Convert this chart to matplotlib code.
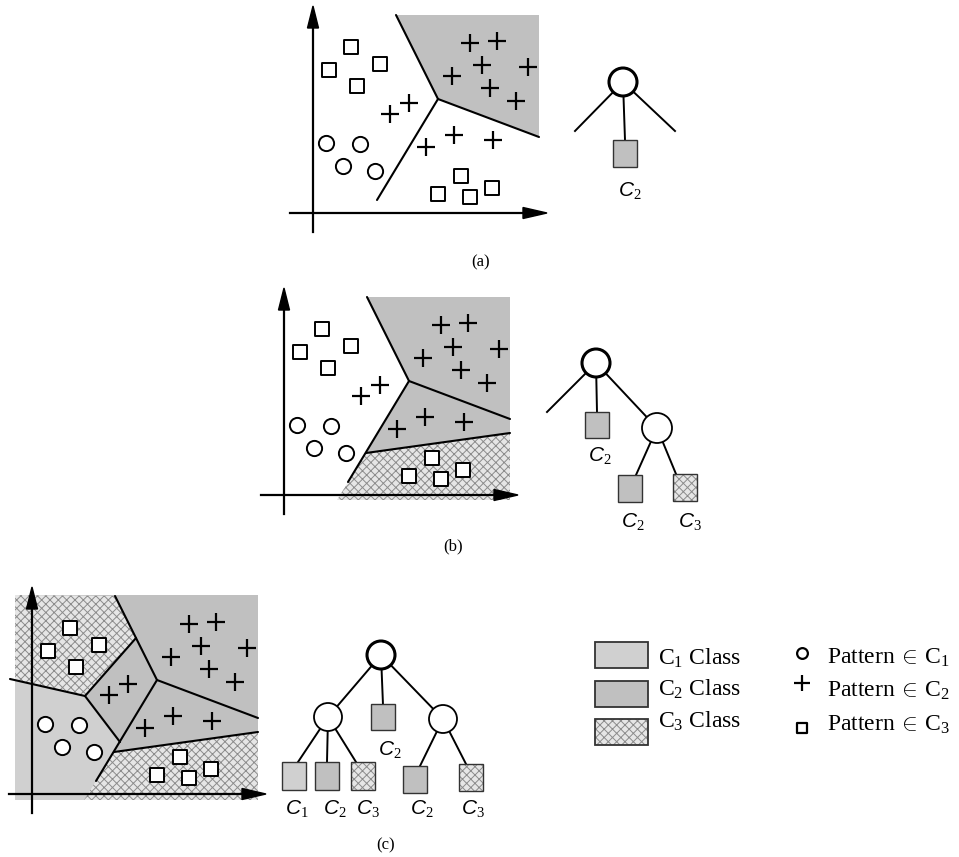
import matplotlib.pyplot as plt
from matplotlib.patches import Polygon, Circle

plt.rcParams['mathtext.fontset'] = 'custom'
plt.rcParams['mathtext.rm'] = 'Liberation Serif'
plt.rcParams['mathtext.it'] = 'Liberation Sans:italic'
plt.rcParams['hatch.linewidth'] = 0.7

# Pattern positions in feature space (units right of / above the origin)
square_x = [38, 16, 67, 44, 125, 148, 157, 179]
square_y = [166, 143, 149, 127, 19, 37, 16, 25]
circle_x = [13, 47, 30, 62]
circle_y = [70, 69, 47, 42]
plus_x = [77, 96, 139, 157, 184, 169, 215, 177, 203, 113, 141, 180]
plus_y = [99, 110, 137, 170, 172, 148, 146, 125, 112, 66, 78, 73]

# Decision boundary vertices
TOP = (83, 198)
HUB = (125, 114)
RIGHT = (226, 76)
BOTTOM = (64, 13)
SPLIT_L = (82, 42)
SPLIT_R = (226, 62)
HUB2 = (104, 156)
MID_L = (53, 98)
MID_B = (88, 52)
LEFT = (-22, 115)

CLASS_FACE = {'C1': '#d0d0d0', 'C2': '#c0c0c0', 'C3': '#e6e6e6'}
HATCH_COLOR = '#8c8c8c'

fig = plt.figure(figsize=(9.59, 8.57), dpi=100)
ax = fig.add_axes([0, 0, 1, 1])
ax.set_xlim(0, 959)
ax.set_ylim(857, 0)
ax.axis('off')


def shade(pts, cls, edge=None, lw=0, z=1):
    ax.add_patch(Polygon(pts, closed=True, facecolor=CLASS_FACE[cls],
                         edgecolor='none', zorder=z))
    if cls == 'C3':
        ax.add_patch(Polygon(pts, closed=True, fill=False, hatch='xxxx',
                             edgecolor=HATCH_COLOR, lw=0, zorder=z))
    if edge:
        ax.add_patch(Polygon(pts, closed=True, fill=False, edgecolor=edge,
                             lw=lw, zorder=z + 0.5))


def draw_panel(ox, oy, regions, lines):
    g = lambda p: (ox + p[0], oy - p[1])
    for pts, cls in regions:
        shade([g(p) for p in pts], cls)
    for a, b in lines:
        (x1, y1), (x2, y2) = g(a), g(b)
        ax.plot([x1, x2], [y1, y2], color='black', lw=1.5,
                solid_capstyle='round', zorder=3)
    # axes with arrowheads
    ax.plot([ox, ox], [oy + 19, oy - 188], color='black', lw=1.6, zorder=4)
    ax.plot([ox - 23, ox + 214], [oy, oy], color='black', lw=1.6, zorder=4)
    ax.add_patch(Polygon([(ox, oy - 207), (ox - 5.5, oy - 185), (ox + 5.5, oy - 185)],
                         closed=True, color='black', zorder=4))
    ax.add_patch(Polygon([(ox + 234, oy), (ox + 210, oy - 5.5), (ox + 210, oy + 5.5)],
                         closed=True, color='black', zorder=4))
    ax.scatter([ox + x for x in square_x], [oy - y for y in square_y], marker='s',
               s=105, facecolor='white', edgecolor='black', linewidths=1.4, zorder=5)
    ax.scatter([ox + x for x in circle_x], [oy - y for y in circle_y], marker='o',
               s=120, facecolor='white', edgecolor='black', linewidths=1.4, zorder=5)
    ax.scatter([ox + x for x in plus_x], [oy - y for y in plus_y], marker='+',
               s=150, color='black', linewidths=1.6, zorder=5)


def edge(p, q):
    ax.plot([p[0], q[0]], [p[1], q[1]], color='black', lw=1.4, zorder=6)


def node(p, r=14, lw=1.3):
    ax.add_patch(Circle(p, r, facecolor='white', edgecolor='black', lw=lw, zorder=7))


def leaf(p, cls, label_pos, w=24, h=26):
    rect = [(p[0] - w / 2, p[1] - h / 2), (p[0] + w / 2, p[1] - h / 2),
            (p[0] + w / 2, p[1] + h / 2), (p[0] - w / 2, p[1] + h / 2)]
    shade(rect, cls, edge='#333333', lw=1.0, z=7)
    ax.text(label_pos[0], label_pos[1], r'$\mathit{%s_%s}$' % (cls[0], cls[1]),
            fontsize=15, ha='center', va='center', zorder=8)


# ---- panel (a) ----
draw_panel(313, 213,
           [([TOP, (226, 198), RIGHT, HUB], 'C2')],
           [(TOP, HUB), (HUB, RIGHT), (HUB, BOTTOM)])
edge((623, 82), (575, 131))
edge((623, 82), (675, 131))
edge((623, 82), (625, 140))
node((623, 82), lw=2.2)
leaf((625, 153), 'C2', (630, 191), h=27)
ax.text(481, 262, '(a)', fontsize=12, family='Liberation Serif', ha='center', va='center')

# ---- panel (b) ----
draw_panel(284, 495,
           [([TOP, (226, 198), RIGHT, HUB], 'C2'),
            ([HUB, RIGHT, SPLIT_R, SPLIT_L], 'C2'),
            ([SPLIT_L, SPLIT_R, (226, -5), (53, -5)], 'C3')],
           [(TOP, HUB), (HUB, RIGHT), (HUB, BOTTOM), (SPLIT_L, SPLIT_R)])
edge((596, 363), (547, 412))
edge((596, 363), (597, 412))
edge((596, 363), (657, 428))
edge((657, 428), (636, 475))
edge((657, 428), (676, 474))
node((596, 363), lw=2.2)
node((657, 428), r=15)
leaf((597, 425), 'C2', (600, 456))
leaf((630, 488), 'C2', (633, 522), h=27)
leaf((685, 487), 'C3', (690, 522), h=27)
ax.text(453, 546, '(b)', fontsize=12, family='Liberation Serif', ha='center', va='center')

# ---- panel (c) ----
draw_panel(32, 794,
           [([(-17, -6), (226, -6), (226, 199), (-17, 199)], 'C2'),
            ([(-17, 199), TOP, HUB2, MID_L, (-17, 114)], 'C3'),
            ([(-17, 114), MID_L, MID_B, BOTTOM, (52, -6), (-17, -6)], 'C1'),
            ([SPLIT_L, SPLIT_R, (226, -6), (52, -6)], 'C3')],
           [(TOP, HUB), (HUB, RIGHT), (HUB, BOTTOM), (SPLIT_L, SPLIT_R),
            (HUB2, MID_L), (MID_L, MID_B), (LEFT, MID_L)])
edge((381, 655), (328, 717))
edge((381, 655), (383, 705))
edge((381, 655), (443, 719))
edge((328, 717), (298, 762))
edge((328, 717), (327, 762))
edge((328, 717), (356, 762))
edge((443, 719), (420, 766))
edge((443, 719), (466, 764))
node((381, 655), lw=2.2)
node((328, 717))
node((443, 719))
leaf((383, 717), 'C2', (390, 750))
leaf((294, 776), 'C1', (297, 809), h=28)
leaf((327, 776), 'C2', (335, 809), h=28)
leaf((363, 776), 'C3', (368, 809), h=28)
leaf((415, 779), 'C2', (422, 809), h=27)
leaf((471, 777), 'C3', (473, 809), h=27)
ax.text(386, 845, '(c)', fontsize=12, family='Liberation Serif', ha='center', va='center')

# ---- legend ----
legend_classes = ['C1', 'C2', 'C3']
legend_patch_y = [655, 694, 732]
legend_text_y = [658, 689, 721]
for cls, py, ty in zip(legend_classes, legend_patch_y, legend_text_y):
    shade([(595, py - 13), (648, py - 13), (648, py + 13), (595, py + 13)],
          cls, edge='#333333', lw=1.3)
    ax.text(658, ty, r'$\mathrm{%s}_%s$ Class' % (cls[0], cls[1]), fontsize=17,
            family='Liberation Serif', ha='left', va='center')

pattern_markers = ['o', '+', 's']
marker_y = [653, 683, 728]
pattern_text_y = [658, 691, 725]
for cls, m, my, ty in zip(legend_classes, pattern_markers, marker_y, pattern_text_y):
    if m == '+':
        ax.scatter([802], [my], marker=m, s=130, color='black', linewidths=1.6)
    else:
        ax.scatter([802], [my], marker=m, s=60, facecolor='white',
                   edgecolor='black', linewidths=1.6)
    ax.text(827, ty, r'Pattern$\,\in\,\mathrm{%s}_%s$' % (cls[0], cls[1]), fontsize=17,
            family='Liberation Serif', ha='left', va='center')

fig.savefig('out.png', dpi=100)
